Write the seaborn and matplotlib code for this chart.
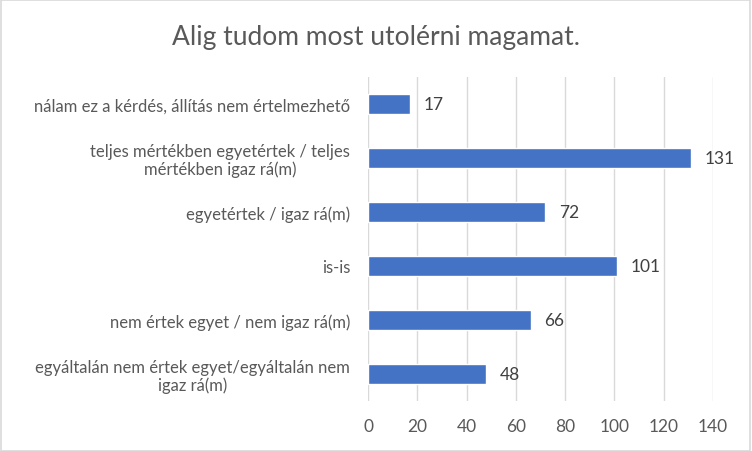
import matplotlib
matplotlib.use("Agg")
import matplotlib.pyplot as plt
import seaborn as sns
import pandas as pd
from matplotlib.patches import Rectangle

title = "Alig tudom most utolérni magamat."
categories = [
    "nálam ez a kérdés, állítás nem értelmezhető",
    "teljes mértékben egyetértek / teljes\nmértékben igaz rá(m)",
    "egyetértek / igaz rá(m)",
    "is-is",
    "nem értek egyet / nem igaz rá(m)",
    "egyáltalán nem értek egyet/egyáltalán nem\nigaz rá(m)",
]
values = [17, 131, 72, 101, 66, 48]
xticks = [0, 20, 40, 60, 80, 100, 120, 140]

df = pd.DataFrame({"cat": categories, "val": values})

sns.set_theme(style="white")
plt.rcParams["font.family"] = ["Lato", "DejaVu Sans"]

fig = plt.figure(figsize=(7.52, 4.52), dpi=100)
ax = fig.add_axes([368/752, 1-402/452, (713-368)/752, (402-78)/452])

sns.barplot(data=df, x="val", y="cat", orient="h", color="#4472C4",
            saturation=1, width=0.355, ax=ax, order=categories)

ax.set_xlim(0, 140)
ax.set_xticks(xticks)
ax.set_xticklabels([str(t) for t in xticks])
ax.grid(axis="x", color="#D9D9D9", linewidth=1)
ax.set_axisbelow(True)
for s in ax.spines.values():
    s.set_visible(False)
ax.set_xlabel("")
ax.set_ylabel("")
ax.tick_params(axis="x", colors="#595959", labelsize=12.5, length=0, pad=12)
ax.tick_params(axis="y", colors="#595959", labelsize=12, length=0, pad=13)
for lab in ax.get_yticklabels():
    lab.set_multialignment("center")
    lab.set_linespacing(1.1)

for cont in ax.containers:
    ax.bar_label(cont, labels=[str(v) for v in values], padding=10,
                 color="#404040", fontsize=12.5)

fig.text(0.5, 1-38/452, title, ha="center", va="center",
         fontsize=19, color="#595959")

fig.patches.append(Rectangle((0.001, 0.001), 0.997, 0.997, transform=fig.transFigure,
                             fill=False, edgecolor="#D9D9D9", linewidth=1.2))

fig.savefig("out.png", dpi=100)
